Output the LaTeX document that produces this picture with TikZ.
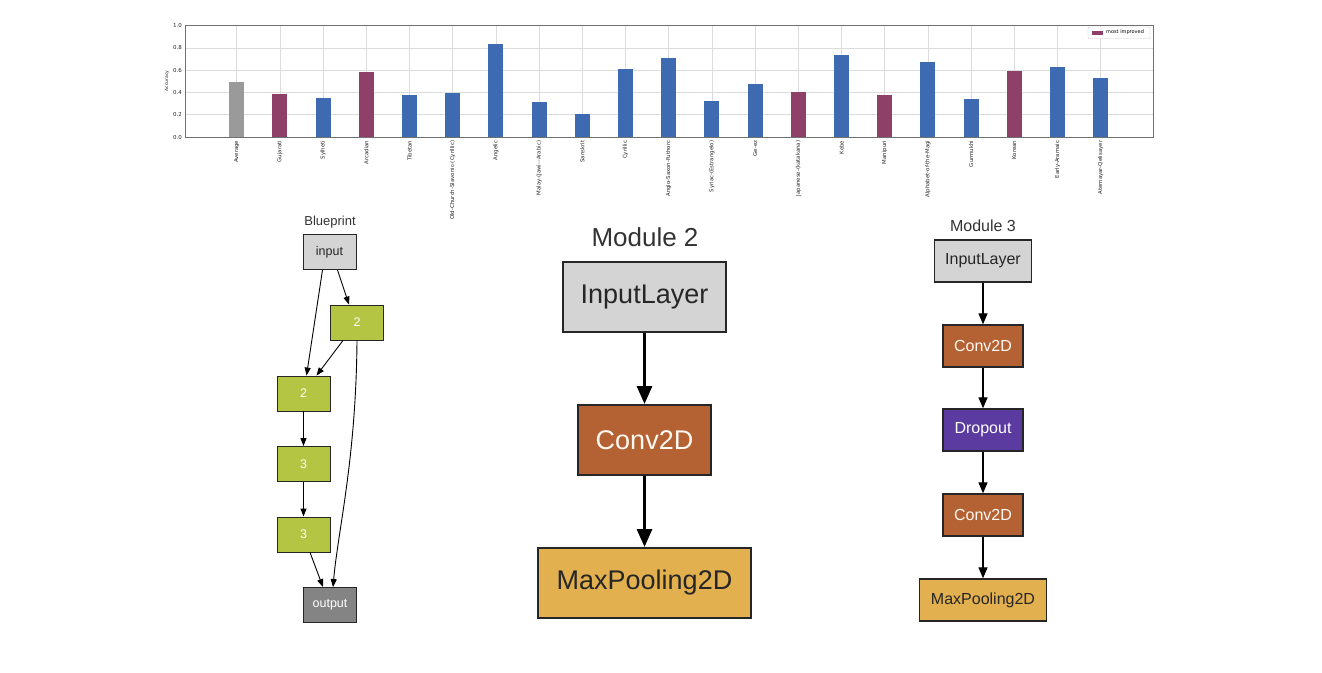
\documentclass[tikz,border=0pt]{standalone}
\usepackage{fontspec}
\setmainfont{Liberation Sans}
\newfontfamily\chartfont{DejaVu Sans}
\usetikzlibrary{arrows.meta}

\definecolor{barblue}{HTML}{3D6AB0}
\definecolor{barplum}{HTML}{8E4068}
\definecolor{bargray}{HTML}{9A9A9A}
\definecolor{gridgray}{HTML}{DCDCDC}
\definecolor{framegray}{HTML}{707070}
\definecolor{leafgreen}{HTML}{B4C443}
\definecolor{convbrown}{HTML}{B46234}
\definecolor{poolgold}{HTML}{E2B04F}
\definecolor{dropviolet}{HTML}{5B3BA0}
\definecolor{inputgray}{HTML}{D4D4D4}
\definecolor{outgray}{HTML}{848484}

\tikzset{
  gridline/.style={gridgray, line width=0.8pt},
  xlab/.style={rotate=90, anchor=east, inner sep=0pt, text=black!85, font=\chartfont\fontsize{5.4}{6}\selectfont},
  ylab/.style={anchor=east, inner sep=0pt, text=black!85, font=\chartfont\fontsize{5.5}{6}\selectfont},
  graphtitle/.style={text=black!80, inner sep=0pt},
  bpbox/.style={draw=black!85, line width=0.9pt, minimum width=53pt, minimum height=35pt,
    inner sep=0pt, text=black!85, font=\fontsize{12.5}{14}\selectfont},
  bparrow/.style={-{Triangle[length=8pt,width=6pt]}, line width=0.9pt},
  mtwobox/.style={draw=black!85, line width=2pt, minimum height=70pt,
    inner sep=0pt, text=black!85, font=\fontsize{27}{30}\selectfont},
  mtwoarrow/.style={-{Triangle[length=18pt,width=15pt]}, line width=3pt},
  mthreebox/.style={draw=black!85, line width=1.4pt, minimum height=42pt,
    inner sep=0pt, text=black!85, font=\fontsize{16}{18}\selectfont},
  mthreearrow/.style={-{Triangle[length=11pt,width=9pt]}, line width=1.3pt},
}

\begin{document}
\begin{tikzpicture}[x=1pt, y=-1pt]
\useasboundingbox (0,0) rectangle (1322,672);

% accuracy chart
\foreach \v in {0.2,0.4,0.6,0.8}
  \draw[gridline] (185,{137-111.3*\v}) -- (1153,{137-111.3*\v});
\foreach \val/\col/\name [count=\i from 0] in {
    0.490/bargray/Average, 0.384/barplum/Gujarati, 0.348/barblue/Sylheti,
    0.587/barplum/Arcadian, 0.375/barblue/Tibetan,
    0.398/barblue/Old-Church-Slavonic-(Cyrillic), 0.838/barblue/Angelic,
    0.317/barblue/Malay-(Jawi-–Arabic), 0.207/barblue/Sanskrit,
    0.608/barblue/Cyrillic, 0.707/barblue/Anglo-Saxon-Futhorc,
    0.323/barblue/Syriac-(Estrangelo), 0.479/barblue/Ge-ez,
    0.402/barplum/Japanese-(katakana), 0.734/barblue/Kebe,
    0.375/barplum/Manipuri, 0.677/barblue/Alphabet-of-the-Magi,
    0.339/barblue/Gurmukhi, 0.596/barplum/Korean,
    0.626/barblue/Early-Aramaic, 0.530/barblue/Atemayar-Qelisayer}{
  \pgfmathsetmacro\xc{236.7+43.2*\i}
  \draw[gridline] (\xc,25.7) -- (\xc,137);
  \fill[\col] (\xc-7.5,137) rectangle (\xc+7.5,{137-111.3*\val});
  \node[xlab] (lab\i) at (\xc,140.5) {\name};
}
\foreach \v in {0.0,0.2,0.4,0.6,0.8,1.0}
  \node[ylab] at (182,{137-111.3*\v}) {\v};
\node[rotate=90, inner sep=0pt, text=black!85, font=\chartfont\fontsize{4.5}{5}\selectfont] (acc) at (167,81) {Accuracy};
\draw[framegray, line width=0.9pt] (185,25.7) rectangle (1153,137);
% legend
\draw[black!20, fill=white, rounded corners=1pt] (1088,27) rectangle (1150,38.5);
\fill[barplum] (1092,30.5) rectangle (1103,34.5);
\node[anchor=west, inner sep=0pt, font=\chartfont\fontsize{5}{6}\selectfont] (legtext) at (1106,32.5) {most improved};

% blueprint
\node[graphtitle, font=\fontsize{13}{15}\selectfont] (bptitle) at (330,222) {Blueprint};
\node[bpbox, fill=inputgray] (bpin) at (329.5,252) {input};
\node[bpbox, fill=leafgreen, text=white] (bpa) at (357,322.5) {2};
\node[bpbox, fill=leafgreen, text=white] (bpb) at (303.5,393.5) {2};
\node[bpbox, fill=leafgreen, text=white] (bpc) at (303.5,464) {3};
\node[bpbox, fill=leafgreen, text=white] (bpd) at (303.5,534.5) {3};
\node[bpbox, fill=outgray, text=white] (bpout) at (330,605) {output};
\draw[bparrow] ([xshift=-7pt]bpin.south) -- ([xshift=3pt]bpb.north);
\draw[bparrow] ([xshift=8pt]bpin.south) -- ([xshift=-8pt]bpa.north);
\draw[bparrow] ([xshift=-14pt]bpa.south) -- ([xshift=13pt]bpb.north);
\draw[bparrow] (bpb) -- (bpc);
\draw[bparrow] (bpc) -- (bpd);
\draw[bparrow] ([xshift=6.5pt]bpd.south) -- ([xshift=-7pt]bpout.north);
\draw[bparrow] (bpa.south) .. controls (356,460) and (338,530) .. ([xshift=3pt]bpout.north);

% module 2
\node[graphtitle, font=\fontsize{26}{28}\selectfont] (mtwotitle) at (645,237) {Module 2};
\node[mtwobox, fill=inputgray, minimum width=163pt] (mtwoin) at (644.5,297) {InputLayer};
\node[mtwobox, fill=convbrown, text=white!95!orange, minimum width=133pt] (mtwoconv) at (644.5,440) {Conv2D};
\node[mtwobox, fill=poolgold, minimum width=213pt] (mtwopool) at (644.5,583) {MaxPooling2D};
\draw[mtwoarrow] (mtwoin) -- (mtwoconv);
\draw[mtwoarrow] (mtwoconv) -- (mtwopool);

% module 3
\node[graphtitle, font=\fontsize{16}{18}\selectfont] (mthreetitle) at (983,226) {Module 3};
\node[mthreebox, fill=inputgray, minimum width=97pt] (mthreein) at (983,261) {InputLayer};
\node[mthreebox, fill=convbrown, text=white!95!orange, minimum width=80pt] (mthreeconva) at (983,346) {Conv2D};
\node[mthreebox, fill=dropviolet, text=white, minimum width=80pt] (mthreedrop) at (983,430) {Dropout};
\node[mthreebox, fill=convbrown, text=white!95!orange, minimum width=80pt] (mthreeconvb) at (983,515) {Conv2D};
\node[mthreebox, fill=poolgold, minimum width=127pt] (mthreepool) at (983,600) {MaxPooling2D};
\draw[mthreearrow] (mthreein) -- (mthreeconva);
\draw[mthreearrow] (mthreeconva) -- (mthreedrop);
\draw[mthreearrow] (mthreedrop) -- (mthreeconvb);
\draw[mthreearrow] (mthreeconvb) -- (mthreepool);
\end{tikzpicture}
\end{document}
